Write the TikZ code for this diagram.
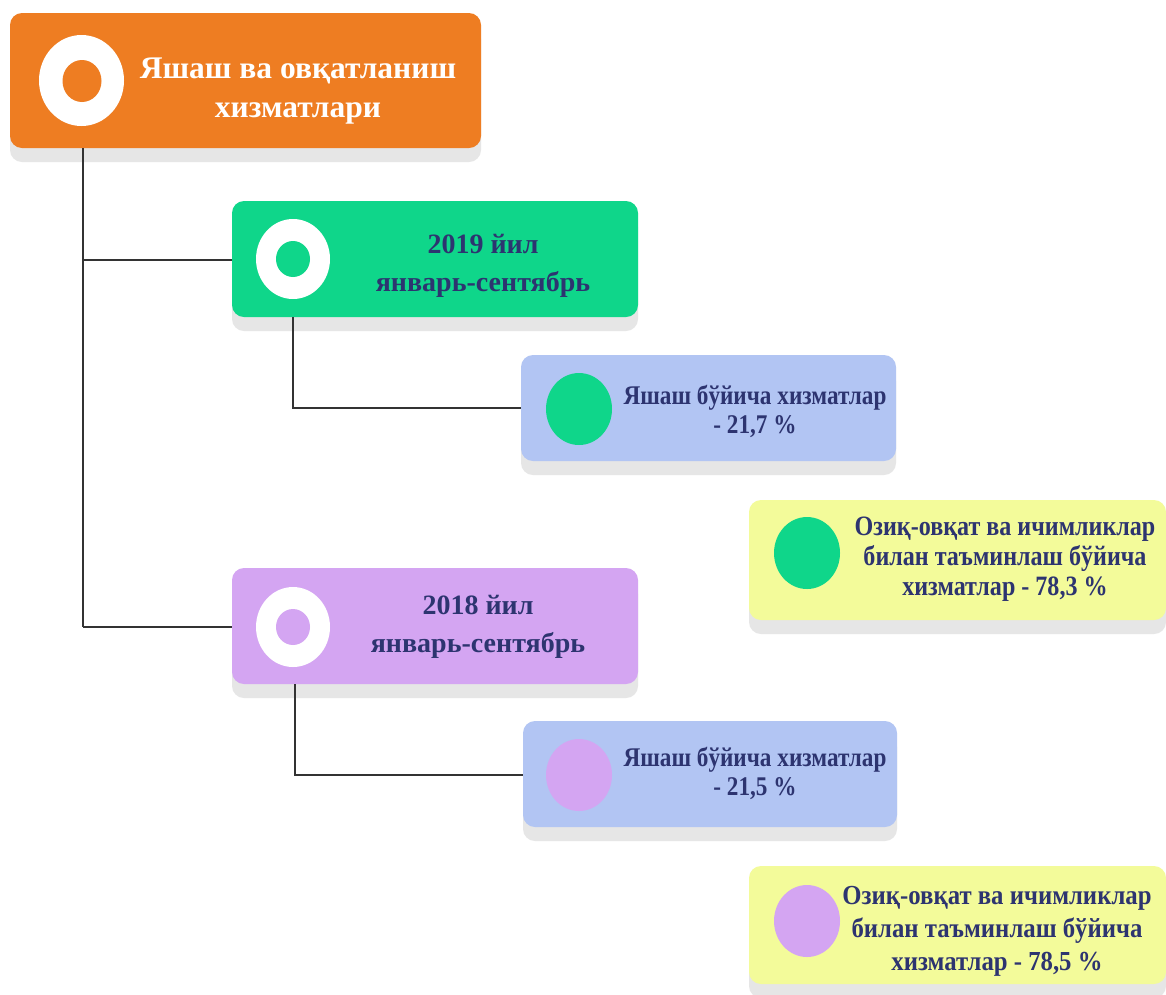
\documentclass[tikz,border=0pt]{standalone}
\usepackage{fontspec}
\setmainfont{Liberation Serif}
\newfontfamily\narrowfont[FakeStretch=0.86]{Liberation Serif}
\newfontfamily\semifont[FakeStretch=0.9]{Liberation Serif}
\definecolor{orangebox}{HTML}{EE7D22}
\definecolor{greenbox}{HTML}{0FD68A}
\definecolor{purplebox}{HTML}{D4A5F2}
\definecolor{bluebox}{HTML}{B2C5F3}
\definecolor{yellowbox}{HTML}{F3FB9A}
\definecolor{navy}{HTML}{2D3470}
\definecolor{shadowgray}{HTML}{E6E6E6}
\definecolor{linegray}{HTML}{333333}
\tikzset{
  title/.style={font=\bfseries\fontsize{31.5}{39}\selectfont, text=white, align=center},
  yearlbl/.style={font=\bfseries\fontsize{28}{38}\selectfont, text=navy, align=center},
  leaflbl/.style={font=\narrowfont\bfseries\fontsize{27}{29}\selectfont, text=navy, align=center},
  yellowlbl/.style={font=\narrowfont\bfseries\fontsize{28}{30}\selectfont, text=navy, align=center},
  yellowlblb/.style={font=\semifont\bfseries\fontsize{27.5}{33}\selectfont, text=navy, align=center},
  conn/.style={draw=linegray, line width=2.2pt},
}
\newcommand{\cardbox}[6]{% name, x1, y1, x2, y2, color
  \fill[shadowgray, rounded corners=12pt] (#2,#3+14) rectangle (#4,#5+14);
  \fill[#6, rounded corners=12pt] (#2,#3) rectangle (#4,#5);
  \coordinate (#1-nw) at (#2,#3);
  \coordinate (#1-se) at (#4,#5);
}
\begin{document}
\begin{tikzpicture}[x=1pt,y=-1pt]
\useasboundingbox (0,0) rectangle (1166,994);
\fill[white] (0,0) rectangle (1166,994);

\coordinate (trunk-top) at (83,148);
\coordinate (trunk-a) at (83,260);
\coordinate (trunk-b) at (83,627);
\coordinate (branchA) at (293,408);
\coordinate (branchB) at (295,775);

% top card
\cardbox{top}{10}{13}{481}{148}{orangebox}
\fill[white] (81.5,80.5) ellipse (42.5pt and 45.5pt);
\fill[orangebox] (82,81) ellipse (19.5pt and 21pt);
\node[title] (toptext) at (298,91) {Яшаш ва овқатланиш\\хизматлари};

% 2019 card
\cardbox{y19}{232}{201}{638}{317}{greenbox}
\fill[white] (293,259) ellipse (37pt and 40pt);
\fill[greenbox] (293,259) ellipse (17pt and 18pt);
\node[yearlbl] (y19text) at (483,266) {2019 йил\\январь-сентябрь};

% 2018 card
\cardbox{y18}{232}{568}{638}{684}{purplebox}
\fill[white] (293,627) ellipse (37pt and 40pt);
\fill[purplebox] (293,627) ellipse (17pt and 18pt);
\node[yearlbl] (y18text) at (478,627) {2018 йил\\январь-сентябрь};

% blue card 2019
\cardbox{b19}{521}{355}{896}{461}{bluebox}
\fill[greenbox] (579,409) ellipse (33pt and 36pt);
\node[leaflbl] (b19text) at (755,411) {Яшаш бўйича хизматлар\\- 21,7 \%};

% yellow card 2019
\cardbox{ye19}{749}{500}{1166}{620}{yellowbox}
\fill[greenbox] (807,553) ellipse (33pt and 36pt);
\node[yellowlbl] (ye19text) at (1005,559) {Озиқ-овқат ва ичимликлар\\билан таъминлаш бўйича\\хизматлар - 78,3 \%};

% blue card 2018
\cardbox{b18}{523}{721}{897}{827}{bluebox}
\fill[purplebox] (579,775) ellipse (33pt and 36pt);
\node[leaflbl] (b18text) at (755,773) {Яшаш бўйича хизматлар\\- 21,5 \%};

% yellow card 2018
\cardbox{ye18}{749}{866}{1166}{984}{yellowbox}
\fill[purplebox] (807,921) ellipse (33pt and 36pt);
\node[yellowlblb] (ye18text) at (997,931) {Озиқ-овқат ва ичимликлар\\билан таъминлаш бўйича\\хизматлар - 78,5 \%};

% connectors
\draw[conn] (trunk-top) -- (trunk-b);
\draw[conn] (trunk-a) -- (y19-nw |- trunk-a);
\draw[conn] (trunk-b) -- (y18-nw |- trunk-b);
\draw[conn] (293,317) -- (branchA) -- (b19-nw |- branchA);
\draw[conn] (295,684) -- (branchB) -- (b18-nw |- branchB);
\end{tikzpicture}
\end{document}
